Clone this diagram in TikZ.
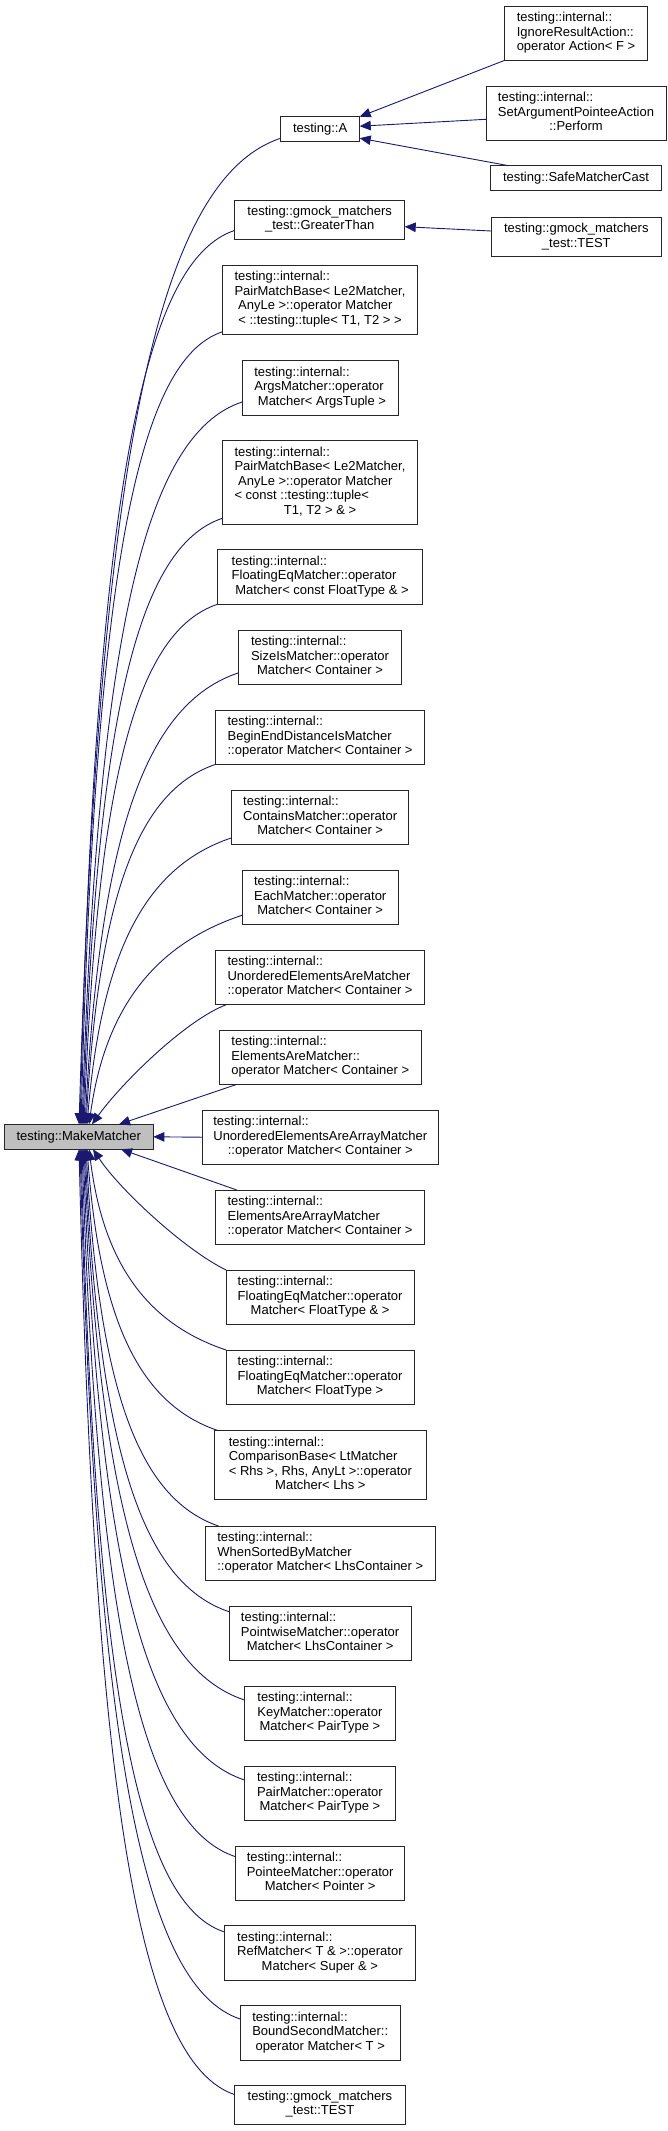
\documentclass[tikz,border=0pt]{standalone}
\usepackage{fontspec}
\setmainfont{Liberation Sans}
\usetikzlibrary{arrows.meta}
\definecolor{edgeblue}{HTML}{191970}
\definecolor{mmgray}{HTML}{BFBFBF}
\newcommand{\dlab}[2]{\begin{tabular}{@{}l@{}}#1\\\multicolumn{1}{@{}c@{}}{#2}\end{tabular}}
\tikzset{
  box/.style={draw=black!85, line width=0.9pt, fill=white, inner sep=0pt, outer sep=0pt, anchor=center, font=\fontsize{13}{14.5}\selectfont},
  hone/.style={minimum height=25pt},
  htwo/.style={minimum height=39.4pt},
  hthree/.style={minimum height=54.4pt},
  hfour/.style={minimum height=69.2pt},
  hfive/.style={minimum height=83.6pt},
  edge/.style={draw=edgeblue, line width=0.9pt, -{Triangle[length=11pt,width=9.5pt]}, fill=none},
}
\begin{document}
\begin{tikzpicture}[x=1pt,y=-1pt]
\fill[white] (0,0) rectangle (668,2131);
\useasboundingbox (0,0) rectangle (668,2131);

% nodes
\node[box,hthree,minimum width=143pt] (ira) at (576,33.2) {\dlab{testing::internal::\\IgnoreResultAction::}{operator Action< F >}};
\node[box,hthree,minimum width=180pt] (sapa) at (576,113.3) {\dlab{testing::internal::\\SetArgumentPointeeAction}{::Perform}};
\node[box,hone,minimum width=171.7pt] (smc) at (576,178.3) {testing::SafeMatcherCast};
\node[box,hone,minimum width=79.2pt] (A) at (320.1,129.2) {testing::A};
\node[box,htwo,minimum width=170pt] (gt) at (319.7,219.7) {\dlab{testing::gmock\_matchers}{\_test::GreaterThan}};
\node[box,htwo,minimum width=170.7pt] (gtestone) at (576.3,237) {\dlab{testing::gmock\_matchers}{\_test::TEST}};
\node[box,hfour,minimum width=195.3pt] (pmbone) at (320,299.8) {\dlab{testing::internal::\\PairMatchBase< Le2Matcher,\\\ AnyLe >::operator Matcher}{< ::testing::tuple< T1, T2 > >}};
\node[box,hthree,minimum width=156.3pt] (args) at (320.2,387.8) {\dlab{testing::internal::\\ArgsMatcher::operator}{\ Matcher< ArgsTuple >}};
\node[box,hfive,minimum width=195.3pt] (pmbtwo) at (320,482.5) {\dlab{testing::internal::\\PairMatchBase< Le2Matcher,\\\ AnyLe >::operator Matcher\\< const ::testing::tuple<}{T1, T2 > \& >}};
\node[box,hthree,minimum width=205pt] (fec) at (320.2,577) {\dlab{testing::internal::\\FloatingEqMatcher::operator}{\ Matcher< const FloatType \& >}};
\node[box,hthree,minimum width=162.8pt] (size) at (320,657.2) {\dlab{testing::internal::\\SizeIsMatcher::operator}{Matcher< Container >}};
\node[box,hthree,minimum width=209.4pt] (bed) at (320.1,737.2) {\dlab{testing::internal::\\BeginEndDistanceIsMatcher}{::operator Matcher< Container >}};
\node[box,hthree,minimum width=177pt] (cont) at (320.2,817.2) {\dlab{testing::internal::\\ContainsMatcher::operator}{Matcher< Container >}};
\node[box,hthree,minimum width=155.5pt] (each) at (320.2,897.2) {\dlab{testing::internal::\\EachMatcher::operator}{Matcher< Container >}};
\node[box,hthree,minimum width=209.4pt] (ueam) at (320.1,977.2) {\dlab{testing::internal::\\UnorderedElementsAreMatcher}{::operator Matcher< Container >}};
\node[box,hthree,minimum width=201.3pt] (eam) at (320.3,1057.2) {\dlab{testing::internal::\\ElementsAreMatcher::}{operator Matcher< Container >}};
\node[box,hone,minimum width=149.3pt,fill=mmgray] (mm) at (78.7,1136.8) {testing::MakeMatcher};
\node[box,hthree,minimum width=236.4pt] (ueaam) at (320.3,1137.2) {\dlab{testing::internal::\\UnorderedElementsAreArrayMatcher}{::operator Matcher< Container >}};
\node[box,hthree,minimum width=209.4pt] (eaam) at (320.1,1217.2) {\dlab{testing::internal::\\ElementsAreArrayMatcher}{::operator Matcher< Container >}};
\node[box,hthree,minimum width=188pt] (fta) at (320.1,1297.2) {\dlab{testing::internal::\\FloatingEqMatcher::operator}{Matcher< FloatType \& >}};
\node[box,hthree,minimum width=188pt] (ft) at (320.1,1377.2) {\dlab{testing::internal::\\FloatingEqMatcher::operator}{Matcher< FloatType >}};
\node[box,hfour,minimum width=212.5pt] (cb) at (320.4,1465.3) {\dlab{testing::internal::\\ComparisonBase< LtMatcher\\< Rhs >, Rhs, AnyLt >::operator}{Matcher< Lhs >}};
\node[box,hthree,minimum width=230.4pt] (wsb) at (320.3,1553.2) {\dlab{testing::internal::\\WhenSortedByMatcher}{::operator Matcher< LhsContainer >}};
\node[box,hthree,minimum width=182pt] (pw) at (320.1,1633.2) {\dlab{testing::internal::\\PointwiseMatcher::operator}{Matcher< LhsContainer >}};
\node[box,hthree,minimum width=150.8pt] (key) at (319.9,1713.2) {\dlab{testing::internal::\\KeyMatcher::operator}{Matcher< PairType >}};
\node[box,hthree,minimum width=150.8pt] (pair) at (319.9,1793.2) {\dlab{testing::internal::\\PairMatcher::operator}{Matcher< PairType >}};
\node[box,hthree,minimum width=169.2pt] (pointee) at (320.1,1873.2) {\dlab{testing::internal::\\PointeeMatcher::operator}{Matcher< Pointer >}};
\node[box,hthree,minimum width=191.8pt] (ref) at (319.9,1953) {\dlab{testing::internal::\\RefMatcher< T \& >::operator}{Matcher< Super \& >}};
\node[box,hthree,minimum width=159.7pt] (bsm) at (320.2,2033) {\dlab{testing::internal::\\BoundSecondMatcher::}{operator Matcher< T >}};
\node[box,htwo,minimum width=170.4pt] (gtesttwo) at (319.9,2104.7) {\dlab{testing::gmock\_matchers}{\_test::TEST}};

% edges into testing::A and GreaterThan
\draw[edge] (ira.south west) -- (A.north east);
\draw[edge] ([yshift=-6pt]sapa.west) -- ([yshift=3pt]A.east);
\draw[edge] ([xshift=19pt]smc.north west) -- ([yshift=3.5pt]A.south east);
\draw[edge] ([yshift=6pt]gtestone.west) -- ([yshift=-7pt]gt.east);

% edges into MakeMatcher from above
\draw[edge] ([yshift=3.4pt]A.south west) .. controls (159.6,178.6) and (99.2,445.3) .. ([xshift=75pt]mm.north west);
\draw[edge] ([yshift=9pt]gt.south west) .. controls (141.9,260.9) and (95.5,500) .. ([xshift=76pt]mm.north west);
\draw[edge] ([yshift=2.6pt]pmbone.south west) .. controls (137.5,360) and (95.1,572.2) .. ([xshift=77pt]mm.north west);
\draw[edge] ([yshift=13pt]args.south west) .. controls (146,433.7) and (98,630.3) .. ([xshift=78pt]mm.north west);
\draw[edge] ([yshift=6pt]pmbtwo.south west) .. controls (138.7,546.2) and (96.9,711.6) .. ([xshift=79pt]mm.north west);
\draw[edge] (fec.south west) .. controls (137.4,631) and (97.4,774.4) .. ([xshift=80pt]mm.north west);
\draw[edge] ([yshift=11.6pt]size.south west) .. controls (146.4,703.4) and (100.4,831.7) .. ([xshift=81pt]mm.north west);
\draw[edge] (bed.south west) .. controls (138.6,790.6) and (99.2,893.8) .. ([xshift=82pt]mm.north west);
\draw[edge] ([yshift=6.6pt]cont.south west) .. controls (144.9,866.6) and (101.5,952.8) .. ([xshift=83pt]mm.north west);
\draw[edge] ([yshift=9.3pt]each.south west) .. controls (150.4,945.7) and (104.3,1013.4) .. ([xshift=85pt]mm.north west);
\draw[edge] ([xshift=11.6pt]ueam.south west) .. controls (185,1020) and (120,1085) .. ([xshift=88pt]mm.north west);
\draw[edge] ([xshift=17pt]eam.south west) -- ([xshift=115pt]mm.north west);

% horizontal
\draw[edge] (ueaam.west) -- (mm.east);

% edges into MakeMatcher from below
\draw[edge] ([xshift=21.4pt]eaam.north west) -- ([xshift=117pt]mm.south west);
\draw[edge] (fta.north west) .. controls (185,1250) and (120,1190) .. ([xshift=89pt]mm.south west);
\draw[edge] (ft.north west) .. controls (143.8,1322.6) and (102.7,1258.7) .. ([xshift=85pt]mm.south west);
\draw[edge] ([xshift=4.3pt]cb.north west) .. controls (139.6,1404.4) and (100.1,1320.9) .. ([xshift=83pt]mm.south west);
\draw[edge] ([xshift=13.3pt]wsb.north west) .. controls (139,1498.5) and (99.2,1391.3) .. ([xshift=82pt]mm.south west);
\draw[edge] ([yshift=-5.7pt]pw.north west) .. controls (142.6,1582.9) and (99.4,1452.9) .. ([xshift=81pt]mm.south west);
\draw[edge] ([yshift=-14pt]key.north west) .. controls (148.2,1667.9) and (100.1,1514.2) .. ([xshift=80pt]mm.south west);
\draw[edge] ([yshift=-14pt]pair.north west) .. controls (147.6,1747.7) and (99.2,1573.9) .. ([xshift=79pt]mm.south west);
\draw[edge] ([yshift=-10.7pt]pointee.north west) .. controls (143.4,1826) and (97.4,1633.8) .. ([xshift=78pt]mm.south west);
\draw[edge] ([yshift=-6pt]ref.north west) .. controls (138.2,1903.1) and (95.3,1693.2) .. ([xshift=77pt]mm.south west);
\draw[edge] ([yshift=-13.3pt]bsm.north west) .. controls (144.1,1986.9) and (96,1753.5) .. ([xshift=76pt]mm.south west);
\draw[edge] ([yshift=-9.6pt]gtesttwo.north west) .. controls (141.3,2063.2) and (94.6,1811.3) .. ([xshift=75pt]mm.south west);
\end{tikzpicture}
\end{document}
